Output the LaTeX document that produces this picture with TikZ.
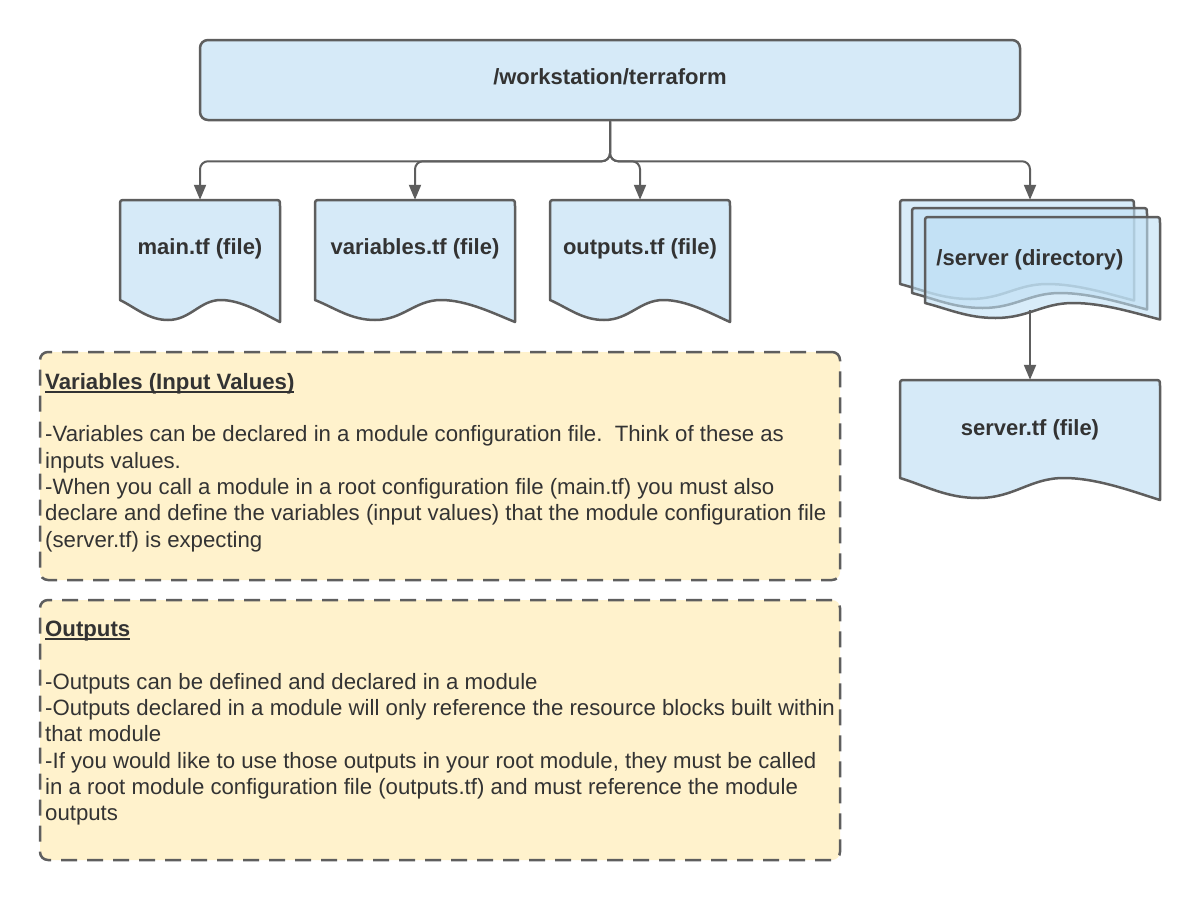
\documentclass[tikz,border=0pt]{standalone}
\usepackage{fontspec}
\setmainfont{Liberation Sans}
\usetikzlibrary{arrows.meta}
\definecolor{bluefill}{RGB}{214,234,248}
\definecolor{bluetr}{RGB}{191,224,245}
\definecolor{yel}{RGB}{255,242,204}
\definecolor{strk}{RGB}{94,94,94}
\definecolor{txt}{RGB}{51,51,51}
\newcommand\myul[1]{\setbox0\hbox{#1}\rlap{\rule[-3.5pt]{\wd0}{1.8pt}}\box0}
\newcommand\shiftlbl[2]{\raisebox{#1}[\height][\depth]{#2}}
% document shape: x0, ytop, x1, ytrough, amplitude, style
\newcommand\docshape[6]{%
 \draw[#6] (#1,{#4-#5}) -- (#1,#2+6) .. controls (#1,#2) .. (#1+6,#2) -- (#3-6,#2) .. controls (#3,#2) .. (#3,#2+6) -- (#3,{#4+0.1*#5})
  .. controls ({#1+0.9*(#3-#1)},{#4-0.3*#5}) and ({#1+0.76*(#3-#1)},{#4-#5}) .. ({#1+0.63*(#3-#1)},{#4-#5})
  .. controls ({#1+0.5*(#3-#1)},{#4-#5}) and ({#1+0.44*(#3-#1)},#4) .. ({#1+0.3*(#3-#1)},#4)
  .. controls ({#1+0.18*(#3-#1)},#4) and ({#1+0.1*(#3-#1)},{#4-0.6*#5}) .. (#1,{#4-#5}) -- cycle;}
\tikzset{
 shp/.style={draw=strk, line width=2.5pt, line join=round},
 docfill/.style={shp, fill=bluefill},
 pagefill/.style={shp, fill=bluetr, fill opacity=0.6},
 arr/.style={draw=strk, line width=2pt, -{Triangle[length=15pt,width=12pt]}, rounded corners=8pt},
 lbl/.style={text=txt, font=\fontsize{22}{26}\selectfont\bfseries, inner sep=0pt},
 notebox/.style={draw=strk, line width=2.5pt, fill=yel, rounded corners=8pt, dash pattern=on 16pt off 10pt},
 notetext/.style={text=txt, font=\fontsize{22.2}{26.3}\selectfont, inner sep=0pt, align=left, anchor=north west},
}
\begin{document}
\begin{tikzpicture}[x=1pt,y=-1pt]
\path[fill=white,use as bounding box] (0,0) rectangle (1200,900);

% top box
\node[shp, fill=bluefill, rounded corners=8pt, minimum width=820pt, minimum height=80pt, lbl] (ws) at (610,80) {\shiftlbl{3pt}{/workstation/terraform}};

% documents
\docshape{120}{200}{280}{320}{20}{docfill}
\node[lbl, minimum width=160pt, minimum height=92pt] (main) at (200,246) {\shiftlbl{-3pt}{main.tf (file)}};
\docshape{315}{200}{515}{320}{20}{docfill}
\node[lbl, minimum width=200pt, minimum height=92pt] (vars) at (415,246) {\shiftlbl{-3pt}{variables.tf (file)}};
\docshape{550}{200}{730}{320}{20}{docfill}
\node[lbl, minimum width=180pt, minimum height=92pt] (outs) at (640,246) {\shiftlbl{-3pt}{outputs.tf (file)}};

% multi-page directory
\docshape{900}{200}{1134}{299}{15}{pagefill}
\docshape{912}{208}{1147}{308}{15}{pagefill}
\docshape{925}{217}{1160}{318}{15}{pagefill}
\node[lbl, minimum width=260pt, minimum height=110pt] (server) at (1030,255) {\shiftlbl{-5pt}{/server (directory)}};

\docshape{900}{380}{1160}{498}{20}{docfill}
\node[lbl, minimum width=260pt, minimum height=94pt] (servertf) at (1030,427) {\shiftlbl{-3pt}{server.tf (file)}};

% connectors
\draw[arr] (ws.south) -- ++(0,40) -| (main.north);
\draw[arr] (ws.south) -- ++(0,40) -| (vars.north);
\draw[arr] (ws.south) -- ++(0,40) -| (outs.north);
\draw[arr] (ws.south) -- ++(0,40) -| (server.north);
\draw[arr] (server.south) -- (servertf.north);

% note boxes
\node[notebox, minimum width=800pt, minimum height=228pt] (varbox) at (440,466) {};
\node[notetext] (vartext) at (45,373) {\textbf{\myul{Variables (Input Values)}}\\
\strut\\
-Variables can be declared in a module configuration file.\ \ Think of these as\\
inputs values.\\
-When you call a module in a root configuration file (main.tf) you must also\\
declare and define the variables (input values) that the module configuration file\\
(server.tf) is expecting};

\node[notebox, minimum width=800pt, minimum height=260pt] (outbox) at (440,730) {};
\node[notetext] (outtext) at (45,621) {\textbf{\myul{Outputs}}\\
\strut\\
-Outputs can be defined and declared in a module\\
-Outputs declared in a module will only reference the resource blocks built within\\
that module\\
-If you would like to use those outputs in your root module, they must be called\\
in a root module configuration file (outputs.tf) and must reference the module\\
outputs};
\end{tikzpicture}
\end{document}
